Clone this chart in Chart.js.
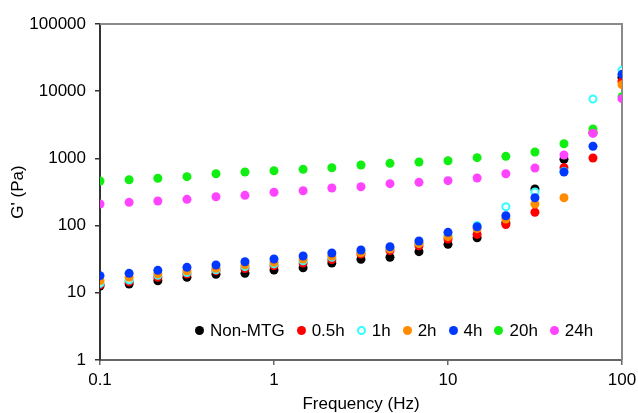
<!DOCTYPE html>
<html>
<head>
<meta charset="utf-8">
<script src="https://cdn.jsdelivr.net/npm/chart.js@4.4.1/dist/chart.umd.min.js"></script>
<style>
  body { margin: 0; background: #fff; }
  #wrap { position: relative; width: 638px; height: 413px; }
  #legend {
    position: absolute; left: 195px; top: 321px;
    font-family: "Liberation Sans", Arial, sans-serif; font-size: 17px; color: #000;
    white-space: nowrap;
  }
  #legend .item { display: inline-block; margin-right: 12px; }
  #legend .dot {
    display: inline-block; width: 9px; height: 9px; border-radius: 50%;
    margin-right: 6px; vertical-align: 1px; box-sizing: border-box;
  }
</style>
</head>
<body>
<div id="wrap">
  <canvas id="chart" width="638" height="413"></canvas>
  <div id="legend"></div>
</div>
<script>
// =========================================================
// DATA
// =========================================================
const frequency = [0.1, 0.147, 0.215, 0.316, 0.464, 0.681, 1, 1.47, 2.15, 3.16,
  4.64, 6.81, 10, 14.7, 21.5, 31.6, 46.4, 68.1, 100];

const nonMTG = [12.6, 13.5, 15.1, 17.0, 18.9, 19.5, 21.8, 23.6, 27.7, 31.5,
  33.8, 40.9, 52.6, 66, 110, 351, 970, 2400, 16000];
const h05 = [13.2, 14.6, 17.0, 19.0, 21.3, 23.0, 25.3, 27.7, 31.1, 37.8,
  42.4, 50.2, 63.1, 74, 104, 158, 727, 1014, 14000];
const h1 = [13.8, 15.5, 18.2, 20.0, 22.0, 24.5, 26.9, 30.0, 33.7, 40.9,
  45.3, 54.5, 71.7, 100, 191, 316, 640, 7650, 20500];
const h2 = [15.1, 17.0, 19.2, 21.3, 23.1, 26.0, 28.4, 31.8, 35.3, 39.5,
  45.3, 54.5, 68.4, 90, 125, 210, 260, 2500, 12500];
const h4 = [18.0, 19.5, 21.6, 23.9, 25.9, 29.0, 31.8, 35.3, 39.1, 43.4,
  48.5, 59.0, 79.4, 96, 140, 260, 628, 1514, 17800];
const h20 = [461, 482, 506, 535, 592, 628, 656, 688, 727, 797,
  845, 884, 924, 1025, 1074, 1245, 1655, 2740, 8280];
const h24 = [210, 222, 232, 246, 269, 282, 313, 330, 363, 379,
  421, 440, 466, 511, 592, 720, 1124, 2363, 7740];

const seriesNames = ["Non-MTG", "0.5h", "1h", "2h", "4h", "20h", "24h"];
const seriesValues = [nonMTG, h05, h1, h2, h4, h20, h24];
const seriesColors = ["#000000", "#FF0000", "#33FFFF", "#FF8C00", "#0038FF", "#11EE11", "#FF44FF"];

const xTickValues = [0.1, 1, 10, 100];
const yTickValues = [1, 10, 100, 1000, 10000, 100000];

const FONT = "'Liberation Sans', Arial, sans-serif";

// build datasets; later series drawn on top like the original
const datasets = seriesNames.map((name, i) => {
  const hollow = name === "1h";
  return {
    label: name,
    data: frequency.map((f, j) => ({ x: f, y: seriesValues[i][j] })),
    pointRadius: hollow ? 3.5 : 4.5,
    pointBorderWidth: hollow ? 2 : 0,
    pointBackgroundColor: hollow ? "#FFFFFF" : seriesColors[i],
    pointBorderColor: seriesColors[i],
    showLine: false,
    order: seriesNames.length - i,
  };
});

// grey box on the top and right of the plot
const frameBox = {
  id: "frameBox",
  beforeDatasetsDraw(chart) {
    const { ctx, chartArea: a } = chart;
    ctx.save();
    ctx.strokeStyle = "#8a8a8a";
    ctx.lineWidth = 2;
    ctx.beginPath();
    ctx.moveTo(a.left, a.top);
    ctx.lineTo(a.right, a.top);
    ctx.lineTo(a.right, a.bottom);
    ctx.stroke();
    ctx.restore();
  },
};

new Chart(document.getElementById("chart"), {
  type: "scatter",
  data: { datasets: datasets },
  plugins: [frameBox],
  options: {
    responsive: false,
    animation: false,
    layout: { padding: { left: 0, right: 16, top: 24, bottom: 0 } },
    plugins: { legend: { display: false }, tooltip: { enabled: false } },
    scales: {
      x: {
        type: "logarithmic",
        min: 0.1,
        max: 100,
        afterBuildTicks: (s) => { s.ticks = xTickValues.map((v) => ({ value: v })); },
        afterFit: (s) => { s.height = 53; s.paddingRight = 0; },
        ticks: {
          autoSkip: false,
          maxRotation: 0,
          padding: 5,
          color: "#000",
          font: { family: FONT, size: 17 },
          callback: (v) => String(v),
        },
        grid: { drawOnChartArea: false, tickLength: 5, color: "#666", lineWidth: 1.5 },
        border: { color: "#666", width: 2 },
        title: {
          display: true,
          text: "Frequency (Hz)",
          color: "#000",
          font: { family: FONT, size: 17 },
          padding: { top: 0, bottom: -2 },
        },
      },
      y: {
        type: "logarithmic",
        min: 1,
        max: 100000,
        afterBuildTicks: (s) => { s.ticks = yTickValues.map((v) => ({ value: v })); },
        afterFit: (s) => { s.width = 100; },
        ticks: {
          autoSkip: false,
          padding: 9,
          color: "#000",
          font: { family: FONT, size: 17 },
          callback: (v) => String(v),
        },
        grid: { drawOnChartArea: false, tickLength: 5, color: "#333", lineWidth: 1.5 },
        border: { color: "#333", width: 2 },
        title: {
          display: true,
          text: "G' (Pa)",
          color: "#000",
          font: { family: FONT, size: 17 },
          padding: { top: 8, bottom: 0 },
        },
      },
    },
  },
});

// HTML legend laid over the bottom of the plot
const legendBox = document.getElementById("legend");
seriesNames.forEach((name, i) => {
  const hollow = name === "1h";
  const item = document.createElement("span");
  item.className = "item";
  const dot = document.createElement("span");
  dot.className = "dot";
  dot.style.background = hollow ? "#fff" : seriesColors[i];
  if (hollow) dot.style.border = "2px solid " + seriesColors[i];
  item.appendChild(dot);
  item.appendChild(document.createTextNode(name));
  legendBox.appendChild(item);
});
</script>
</body>
</html>
